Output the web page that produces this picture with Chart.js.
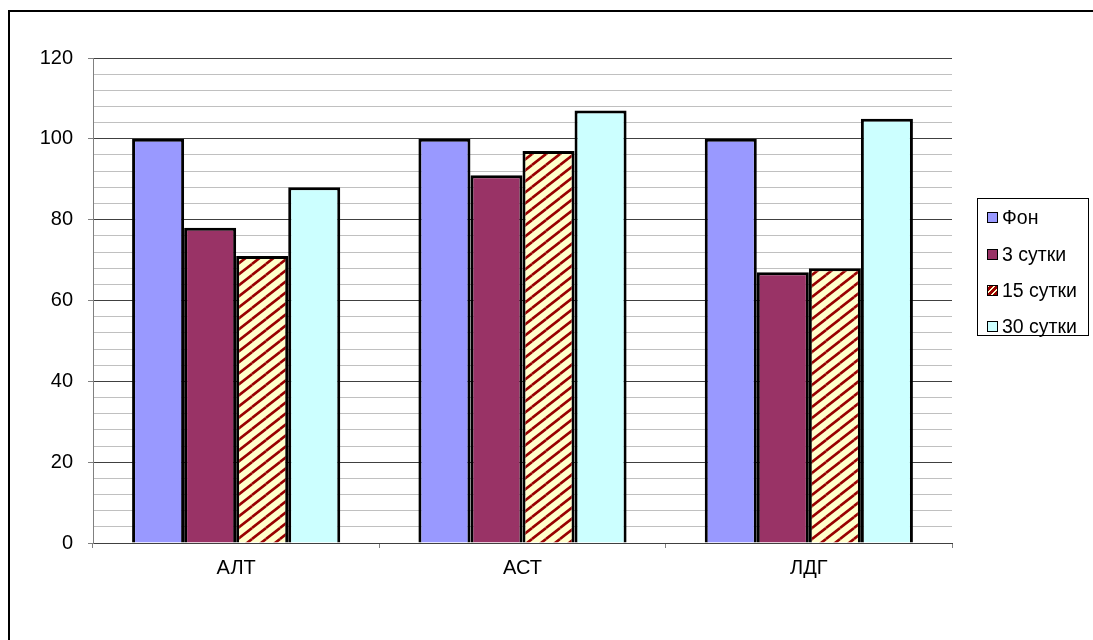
<!DOCTYPE html>
<html>
<head>
<meta charset="utf-8">
<script src="https://cdn.jsdelivr.net/npm/chart.js@4/dist/chart.umd.min.js"></script>
<style>
  html, body { margin: 0; padding: 0; background: #fff; }
  body { width: 1093px; height: 640px; position: relative; overflow: hidden; font-family: "Liberation Sans", Arial, sans-serif; }
  #frame { position: absolute; left: 8px; top: 10px; width: 1200px; height: 800px; border: 2px solid #000; box-sizing: border-box; }
  #wrap { position: absolute; left: 0; top: 0; width: 1093px; height: 640px; }
  #legend { position: absolute; left: 977px; top: 198px; width: 112px; height: 138px; border: 1px solid #000; box-sizing: border-box; background: #fff; }
  .row { position: absolute; left: 9px; height: 22px; display: flex; align-items: center; font-size: 19.5px; color: #000; white-space: nowrap; }
  .sw { width: 9px; height: 9px; border: 1.5px solid #000; margin-right: 4px; flex: none; }
</style>
</head>
<body>
<div id="frame"></div>
<div id="wrap"><canvas id="c" width="1093" height="640"></canvas></div>
<div id="legend"></div>
<script>
// Enzyme activity, % of baseline
const categories = ['АЛТ', 'АСТ', 'ЛДГ'];
const seriesNames = ['Фон', '3 сутки', '15 сутки', '30 сутки'];
const fon     = [100, 100, 100];
const day3    = [78, 91, 67];
const day15   = [71, 97, 68];
const day30   = [88, 107, 105];
const yTickLabels = [0, 20, 40, 60, 80, 100, 120];

// diagonal hatch used for the 15-day series
function hatch() {
  const w = 14, h = 11;
  const c = document.createElement('canvas');
  c.width = w; c.height = h;
  const g = c.getContext('2d');
  g.fillStyle = '#FFFFCC';
  g.fillRect(0, 0, w, h);
  g.strokeStyle = '#990000';
  g.lineWidth = 2.6;
  for (let dx = -w; dx <= w; dx += w) {
    for (let dy = -h; dy <= h; dy += h) {
      g.beginPath();
      g.moveTo(dx, h + dy);
      g.lineTo(dx + w, dy);
      g.stroke();
    }
  }
  return g.createPattern(c, 'repeat');
}

const fills = ['#9999FF', '#993366', hatch(), '#CCFFFF'];
const swatchCss = ['#9999FF', '#993366',
  'repeating-linear-gradient(-45deg, #990000 0 3px, #FFFFCC 3px 4.5px)', '#CCFFFF'];
const values = [fon, day3, day15, day30];

const datasets = seriesNames.map((name, i) => ({
  label: name,
  data: values[i],
  backgroundColor: fills[i],
  borderColor: '#000',
  borderWidth: 3,
  categoryPercentage: 0.727,
  barPercentage: 1.0
}));

// legend
const legend = document.getElementById('legend');
const rowTops = [7, 44, 80, 116];
seriesNames.forEach((name, i) => {
  const row = document.createElement('div');
  row.className = 'row';
  row.style.top = rowTops[i] + 'px';
  const sw = document.createElement('span');
  sw.className = 'sw';
  sw.style.background = swatchCss[i];
  const t = document.createElement('span');
  t.textContent = name;
  row.appendChild(sw);
  row.appendChild(t);
  legend.appendChild(row);
});

const font = { family: '"Liberation Sans", Arial, sans-serif', size: 20 };

new Chart(document.getElementById('c'), {
  type: 'bar',
  data: { labels: categories, datasets },
  options: {
    responsive: false,
    animation: false,
    layout: { padding: { left: 0, top: 58, right: 141, bottom: 0 } },
    plugins: { legend: { display: false }, tooltip: { enabled: false } },
    scales: {
      x: {
        grid: { offset: true, drawOnChartArea: false, drawTicks: true, tickLength: 5, color: '#808080' },
        border: { color: '#404040', width: 1 },
        ticks: { color: '#000', font, padding: 8 },
        afterFit: s => { s.height = 97; }
      },
      y: {
        min: 0, max: 120,
        grid: {
          color: ctx => (ctx.tick && ctx.tick.value % 20 === 0) ? '#404040' : '#C0C0C0',
          tickColor: ctx => (ctx.tick && ctx.tick.value % 20 === 0) ? '#808080' : 'rgba(0,0,0,0)',
          tickLength: 5,
          lineWidth: 1
        },
        border: { color: '#808080', width: 1 },
        ticks: {
          stepSize: 4,
          autoSkip: false,
          color: '#000',
          font,
          padding: 15,
          callback: v => yTickLabels.includes(v) ? String(v) : ''
        },
        afterFit: s => { s.width = 93; }
      }
    }
  }
});
</script>
</body>
</html>
